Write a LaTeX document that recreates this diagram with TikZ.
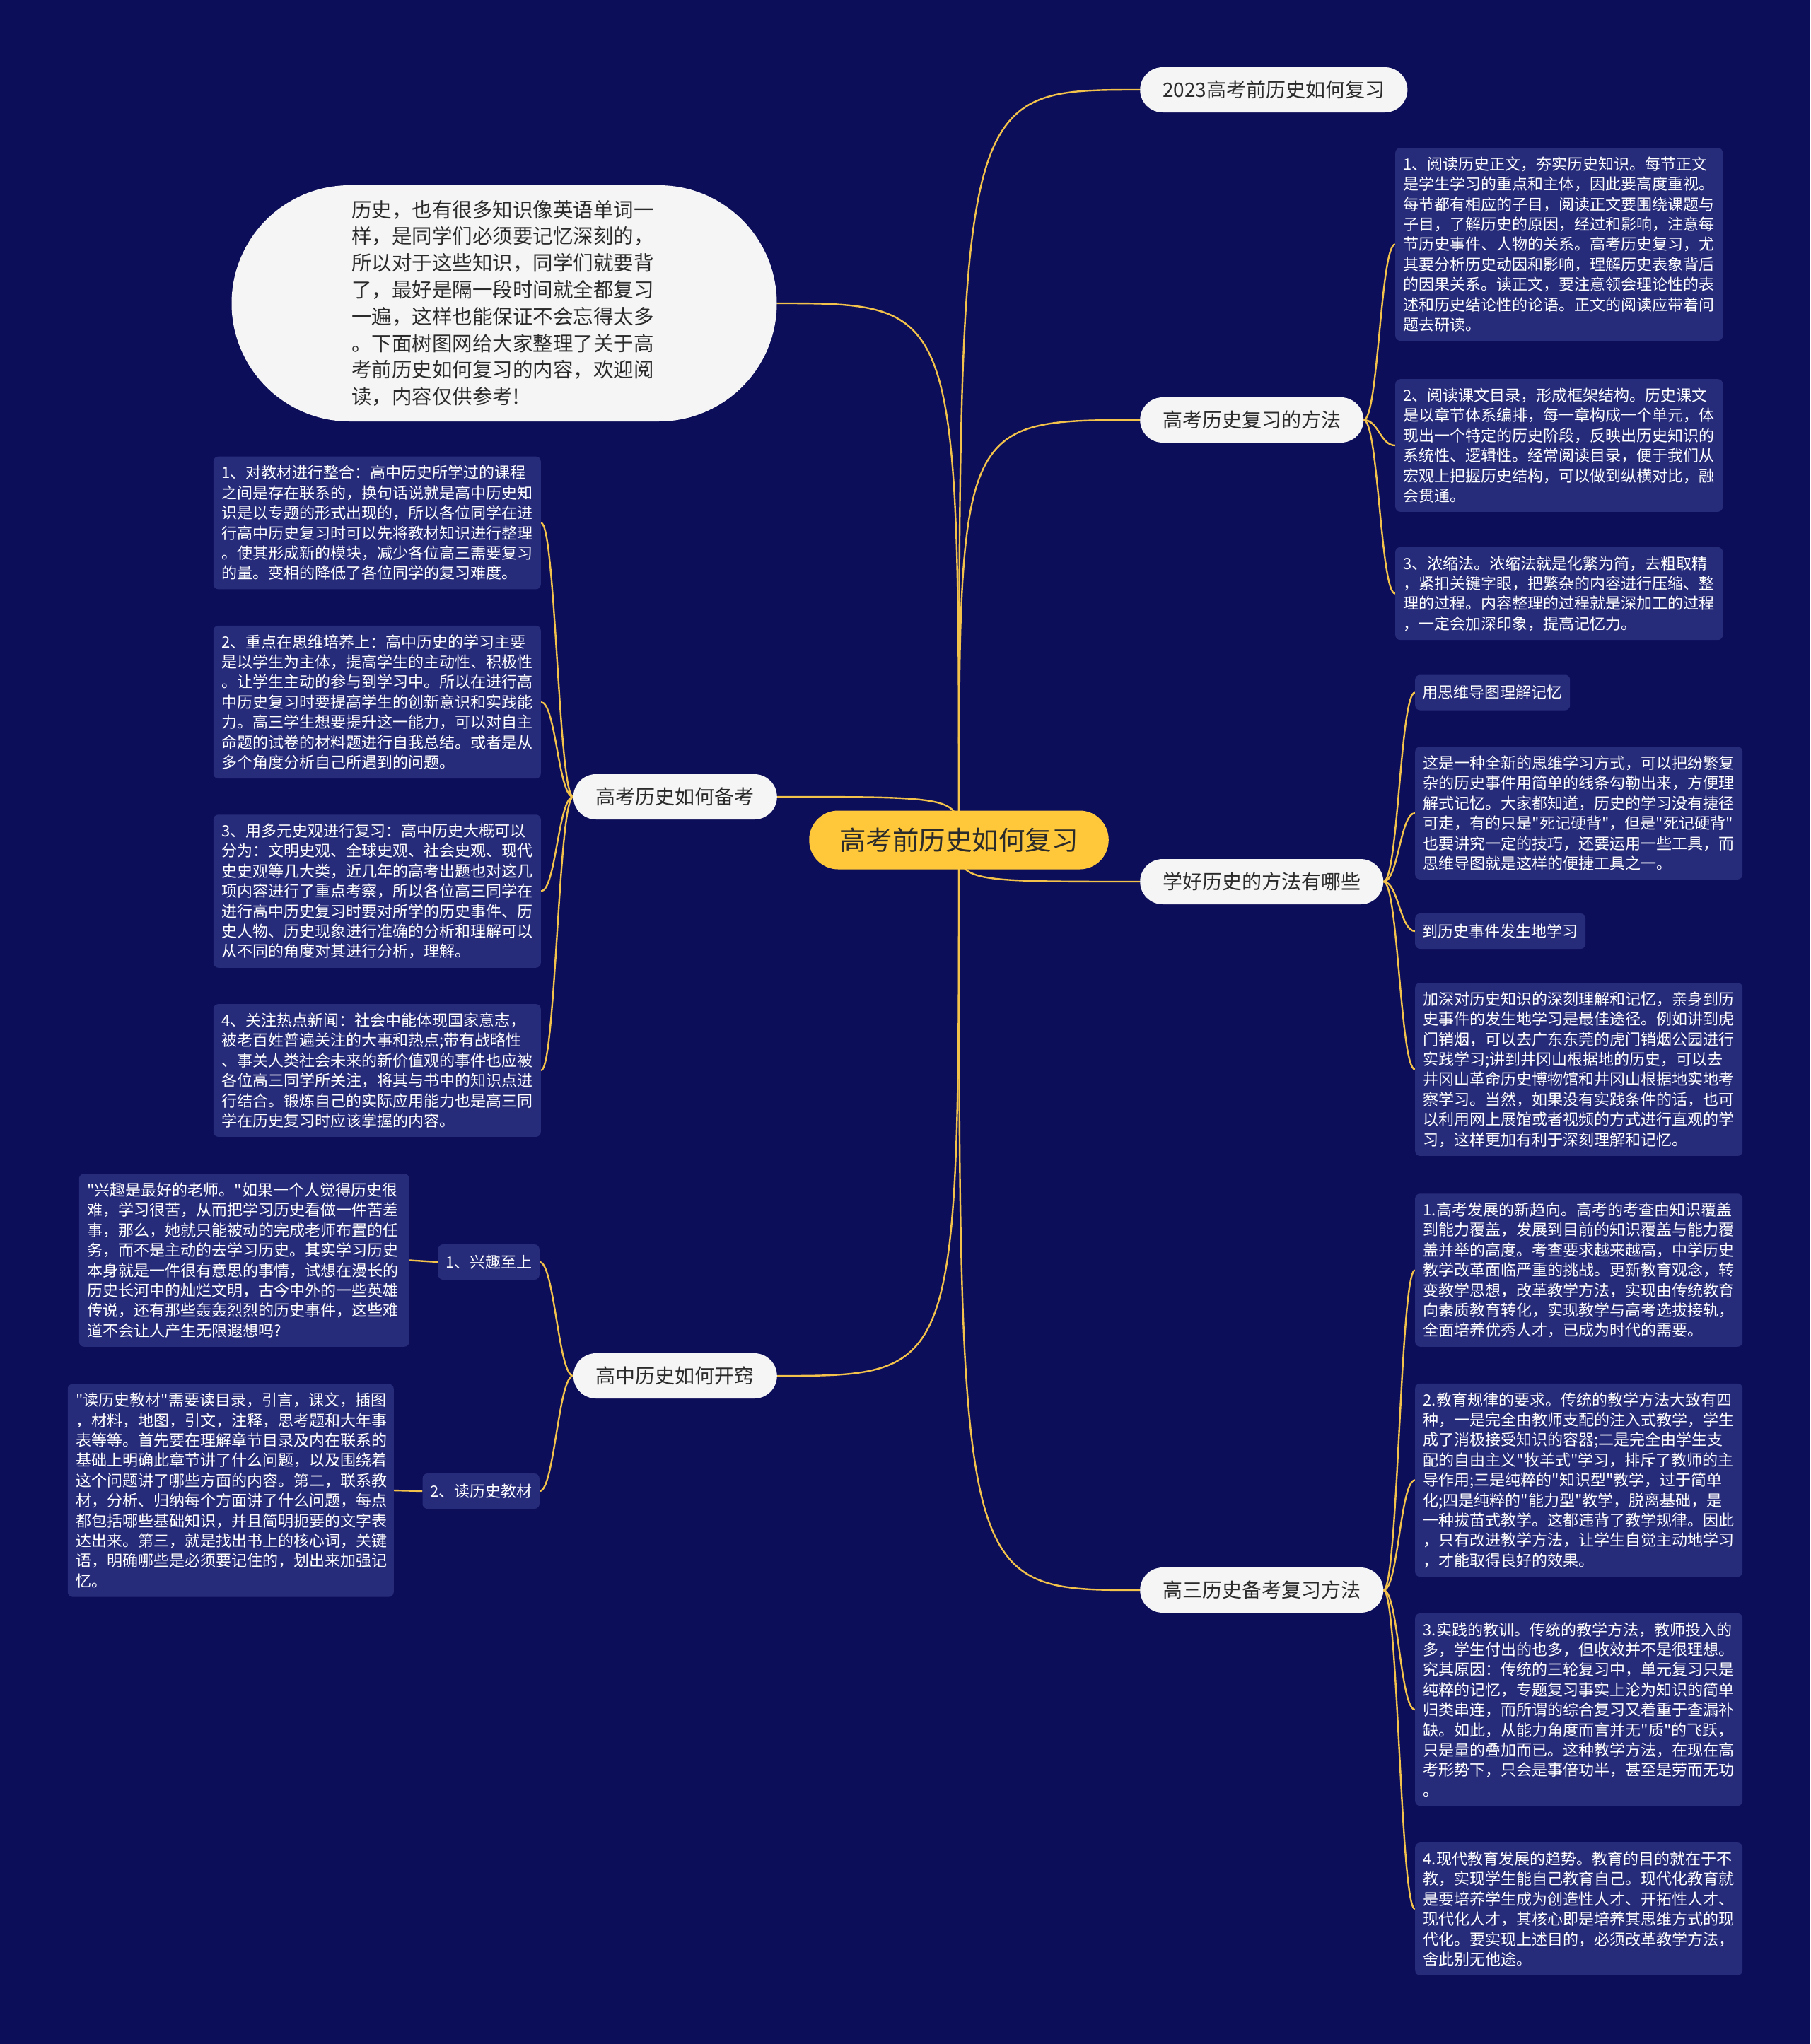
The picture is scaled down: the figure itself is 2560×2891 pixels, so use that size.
\documentclass[tikz,border=0pt]{standalone}
\usepackage{fontspec}
\newfontfamily\zhfont{Noto Sans CJK SC}
\usepackage{xcolor}
\usepackage{tikz}
\usetikzlibrary{positioning,calc,backgrounds}
\definecolor{night}{HTML}{0D0E5A}
\definecolor{leafblue}{HTML}{262C7A}
\definecolor{gold}{HTML}{F2C24A}
\definecolor{sun}{HTML}{FFC83A}
\definecolor{paper}{HTML}{F5F5F5}
\definecolor{ink}{HTML}{2B2B2B}

\begin{document}
\begin{tikzpicture}[
  x=1pt, y=-1pt,
  leaf/.style={rounded corners=7pt, fill=leafblue, text=white, align=left, inner xsep=11.5pt, inner ysep=12.6pt, text width=440pt, font=\zhfont\fontsize{22pt}{28.4pt}\selectfont},
  tag/.style={rounded corners=7pt, fill=leafblue, text=white, inner xsep=10.5pt, minimum height=50pt, font=\zhfont\fontsize{22pt}{27pt}\selectfont},
  branch/.style={rounded corners=32pt, fill=paper, text=ink, minimum height=64pt, inner xsep=32pt, font=\zhfont\fontsize{28pt}{32pt}\selectfont},
  link/.style={draw=gold, line width=2.4pt}
]
\node[branch, fill=sun, minimum height=83pt, rounded corners=41pt, inner xsep=43pt, font=\zhfont\fontsize{37.5pt}{40pt}\selectfont] (root) at (1356,1188) {高考前历史如何复习};
\node[rounded corners=167pt, fill=paper, text=ink, minimum width=771pt, minimum height=334pt, text width=432pt, align=left, font=\zhfont\fontsize{28.5pt}{37.8pt}\selectfont] (intro) at (713,429) {历史，也有很多知识像英语单词一\\样，是同学们必须要记忆深刻的，\\所以对于这些知识，同学们就要背\\了，最好是隔一段时间就全都复习\\一遍，这样也能保证不会忘得太多\\。下面树图网给大家整理了关于高\\考前历史如何复习的内容，欢迎阅\\读，内容仅供参考!};
\node[branch, anchor=west] (y2023) at (1612,127) {2023高考前历史如何复习};
\node[branch, anchor=west] (method) at (1612,594) {高考历史复习的方法};
\node[branch, anchor=west] (good) at (1612,1247) {学好历史的方法有哪些};
\node[branch, anchor=west] (senior) at (1612,2249) {高三历史备考复习方法};
\node[branch, anchor=east] (prep) at (1099,1127) {高考历史如何备考};
\node[branch, anchor=east] (open) at (1099,1946) {高中历史如何开窍};
\node[leaf, anchor=west] (m1) at (1973,345.5) {1、阅读历史正文，夯实历史知识。每节正文\\是学生学习的重点和主体，因此要高度重视。\\每节都有相应的子目，阅读正文要围绕课题与\\子目，了解历史的原因，经过和影响，注意每\\节历史事件、人物的关系。高考历史复习，尤\\其要分析历史动因和影响，理解历史表象背后\\的因果关系。读正文，要注意领会理论性的表\\述和历史结论性的论语。正文的阅读应带着问\\题去研读。};
\node[leaf, anchor=west] (m2) at (1973,630) {2、阅读课文目录，形成框架结构。历史课文\\是以章节体系编排，每一章构成一个单元，体\\现出一个特定的历史阶段，反映出历史知识的\\系统性、逻辑性。经常阅读目录，便于我们从\\宏观上把握历史结构，可以做到纵横对比，融\\会贯通。};
\node[leaf, anchor=west] (m3) at (1973,839.5) {3、浓缩法。浓缩法就是化繁为简，去粗取精\\，紧扣关键字眼，把繁杂的内容进行压缩、整\\理的过程。内容整理的过程就是深加工的过程\\，一定会加深印象，提高记忆力。};
\node[tag, anchor=west] (mapmem) at (2001,979.5) {用思维导图理解记忆};
\node[leaf, anchor=west] (g1) at (2001,1150) {这是一种全新的思维学习方式，可以把纷繁复\\杂的历史事件用简单的线条勾勒出来，方便理\\解式记忆。大家都知道，历史的学习没有捷径\\可走，有的只是"死记硬背"，但是"死记硬背"\\也要讲究一定的技巧，还要运用一些工具，而\\思维导图就是这样的便捷工具之一。};
\node[tag, anchor=west] (onsite) at (2001,1317) {到历史事件发生地学习};
\node[leaf, anchor=west] (g2) at (2001,1512.5) {加深对历史知识的深刻理解和记忆，亲身到历\\史事件的发生地学习是最佳途径。例如讲到虎\\门销烟，可以去广东东莞的虎门销烟公园进行\\实践学习;讲到井冈山根据地的历史，可以去\\井冈山革命历史博物馆和井冈山根据地实地考\\察学习。当然，如果没有实践条件的话，也可\\以利用网上展馆或者视频的方式进行直观的学\\习，这样更加有利于深刻理解和记忆。};
\node[leaf, anchor=west] (s1) at (2001,1796.5) {1.高考发展的新趋向。高考的考查由知识覆盖\\到能力覆盖，发展到目前的知识覆盖与能力覆\\盖并举的高度。考查要求越来越高，中学历史\\教学改革面临严重的挑战。更新教育观念，转\\变教学思想，改革教学方法，实现由传统教育\\向素质教育转化，实现教学与高考选拔接轨，\\全面培养优秀人才，已成为时代的需要。};
\node[leaf, anchor=west] (s2) at (2001,2093.5) {2.教育规律的要求。传统的教学方法大致有四\\种，一是完全由教师支配的注入式教学，学生\\成了消极接受知识的容器;二是完全由学生支\\配的自由主义"牧羊式"学习，排斥了教师的主\\导作用;三是纯粹的"知识型"教学，过于简单\\化;四是纯粹的"能力型"教学，脱离基础，是\\一种拔苗式教学。这都违背了教学规律。因此\\，只有改进教学方法，让学生自觉主动地学习\\，才能取得良好的效果。};
\node[leaf, anchor=west] (s3) at (2001,2418) {3.实践的教训。传统的教学方法，教师投入的\\多，学生付出的也多，但收效并不是很理想。\\究其原因：传统的三轮复习中，单元复习只是\\纯粹的记忆，专题复习事实上沦为知识的简单\\归类串连，而所谓的综合复习又着重于查漏补\\缺。如此，从能力角度而言并无"质"的飞跃，\\只是量的叠加而已。这种教学方法，在现在高\\考形势下，只会是事倍功半，甚至是劳而无功\\。};
\node[leaf, anchor=west] (s4) at (2001,2700) {4.现代教育发展的趋势。教育的目的就在于不\\教，实现学生能自己教育自己。现代化教育就\\是要培养学生成为创造性人才、开拓性人才、\\现代化人才，其核心即是培养其思维方式的现\\代化。要实现上述目的，必须改革教学方法，\\舍此别无他途。};
\node[leaf, anchor=east] (p1) at (765,739.5) {1、对教材进行整合：高中历史所学过的课程\\之间是存在联系的，换句话说就是高中历史知\\识是以专题的形式出现的，所以各位同学在进\\行高中历史复习时可以先将教材知识进行整理\\。使其形成新的模块，减少各位高三需要复习\\的量。变相的降低了各位同学的复习难度。};
\node[leaf, anchor=east] (p2) at (765,993) {2、重点在思维培养上：高中历史的学习主要\\是以学生为主体，提高学生的主动性、积极性\\。让学生主动的参与到学习中。所以在进行高\\中历史复习时要提高学生的创新意识和实践能\\力。高三学生想要提升这一能力，可以对自主\\命题的试卷的材料题进行自我总结。或者是从\\多个角度分析自己所遇到的问题。};
\node[leaf, anchor=east] (p3) at (765,1260.5) {3、用多元史观进行复习：高中历史大概可以\\分为：文明史观、全球史观、社会史观、现代\\史史观等几大类，近几年的高考出题也对这几\\项内容进行了重点考察，所以各位高三同学在\\进行高中历史复习时要对所学的历史事件、历\\史人物、历史现象进行准确的分析和理解可以\\从不同的角度对其进行分析，理解。};
\node[leaf, anchor=east] (p4) at (765,1514) {4、关注热点新闻：社会中能体现国家意志，\\被老百姓普遍关注的大事和热点;带有战略性\\、事关人类社会未来的新价值观的事件也应被\\各位高三同学所关注，将其与书中的知识点进\\行结合。锻炼自己的实际应用能力也是高三同\\学在历史复习时应该掌握的内容。};
\node[tag, anchor=east] (interest) at (763,1785) {1、兴趣至上};
\node[tag, anchor=east] (book) at (763,2109) {2、读历史教材};
\node[leaf, anchor=east, text width=444pt] (o1) at (579,1782.5) {"兴趣是最好的老师。"如果一个人觉得历史很\\难，学习很苦，从而把学习历史看做一件苦差\\事，那么，她就只能被动的完成老师布置的任\\务，而不是主动的去学习历史。其实学习历史\\本身就是一件很有意思的事情，试想在漫长的\\历史长河中的灿烂文明，古今中外的一些英雄\\传说，还有那些轰轰烈烈的历史事件，这些难\\道不会让人产生无限遐想吗?};
\node[leaf, anchor=east, text width=438pt] (o2) at (557,2108) {"读历史教材"需要读目录，引言，课文，插图\\，材料，地图，引文，注释，思考题和大年事\\表等等。首先要在理解章节目录及内在联系的\\基础上明确此章节讲了什么问题，以及围绕着\\这个问题讲了哪些方面的内容。第二，联系教\\材，分析、归纳每个方面讲了什么问题，每点\\都包括哪些基础知识，并且简明扼要的文字表\\达出来。第三，就是找出书上的核心词，关键\\语，明确哪些是必须要记住的，划出来加强记\\忆。};
\begin{scope}[on background layer]
\fill[night] (0,0) rectangle (2560,2891);
\draw[link] (root.center) .. controls (root.center |- intro.east) .. (intro.east);
\draw[link] (root.center) .. controls (root.center |- prep.east) .. (prep.east);
\draw[link] (root.center) .. controls (root.center |- open.east) .. (open.east);
\draw[link] (root.center) .. controls (root.center |- y2023.west) .. (y2023.west);
\draw[link] (root.center) .. controls (root.center |- method.west) .. (method.west);
\draw[link] (root.center) .. controls (root.center |- good.west) .. (good.west);
\draw[link] (root.center) .. controls (root.center |- senior.west) .. (senior.west);
\draw[link] (method.east) .. controls +(21,0) and +(-21,0) .. (m1.west);
\draw[link] (method.east) .. controls +(21,0) and +(-21,0) .. (m2.west);
\draw[link] (method.east) .. controls +(21,0) and +(-21,0) .. (m3.west);
\draw[link] (good.east) .. controls +(21,0) and +(-21,0) .. (mapmem.west);
\draw[link] (good.east) .. controls +(21,0) and +(-21,0) .. (g1.west);
\draw[link] (good.east) .. controls +(21,0) and +(-21,0) .. (onsite.west);
\draw[link] (good.east) .. controls +(21,0) and +(-21,0) .. (g2.west);
\draw[link] (senior.east) .. controls +(21,0) and +(-21,0) .. (s1.west);
\draw[link] (senior.east) .. controls +(21,0) and +(-21,0) .. (s2.west);
\draw[link] (senior.east) .. controls +(21,0) and +(-21,0) .. (s3.west);
\draw[link] (senior.east) .. controls +(21,0) and +(-21,0) .. (s4.west);
\draw[link] (prep.west) .. controls +(-21,0) and +(21,0) .. (p1.east);
\draw[link] (prep.west) .. controls +(-21,0) and +(21,0) .. (p2.east);
\draw[link] (prep.west) .. controls +(-21,0) and +(21,0) .. (p3.east);
\draw[link] (prep.west) .. controls +(-21,0) and +(21,0) .. (p4.east);
\draw[link] (open.west) .. controls +(-21,0) and +(21,0) .. (interest.east);
\draw[link] (open.west) .. controls +(-21,0) and +(21,0) .. (book.east);
\draw[link] (interest.west) -- (o1.east);
\draw[link] (book.west) -- (o2.east);
\end{scope}
\end{tikzpicture}
\end{document}
